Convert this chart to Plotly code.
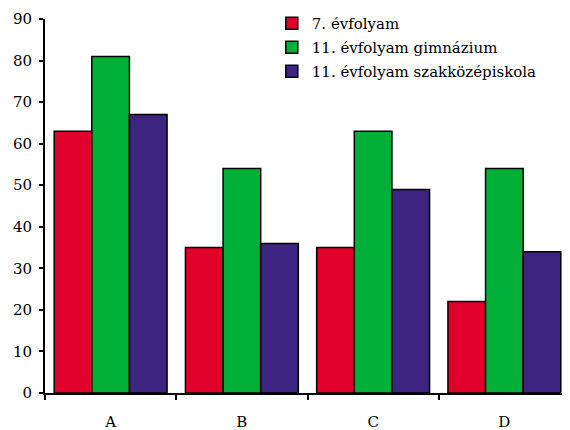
import plotly.graph_objects as go

categories = ["A", "B", "C", "D"]
series_names = ["7. évfolyam", "11. évfolyam gimnázium", "11. évfolyam szakközépiskola"]
values_7 = [63, 35, 35, 22]
values_11g = [81, 54, 63, 54]
values_11sz = [67, 36, 49, 34]
colors = ["#E0002A", "#00B038", "#3C2480"]

font = dict(family="DejaVu Serif", size=15, color="black")

fig = go.Figure()
for i, (name, vals, col) in enumerate(zip(series_names, [values_7, values_11g, values_11sz], colors)):
    fig.add_trace(go.Bar(x=categories, y=vals, name=name, legendgroup=f"g{i}",
                         marker=dict(color=col, line=dict(color="black", width=1.5))))

fig.update_layout(
    width=562, height=422,
    margin=dict(l=37, r=0, t=11, b=37, autoexpand=False),
    paper_bgcolor="white", plot_bgcolor="white",
    font=font,
    barmode="group", bargap=0.14, bargroupgap=0,
    showlegend=True,
    legend=dict(x=0.432, y=1.032, xanchor="left", yanchor="top",
                bgcolor="rgba(0,0,0,0)", font=font, tracegroupgap=1.5,
                traceorder="grouped", itemwidth=30),
    xaxis=dict(type="category", range=[-0.5, 3.5], showgrid=False,
               showline=True, linecolor="black", linewidth=1.5,
               ticks="outside", ticklen=5, tickwidth=1.5, tickcolor="black",
               tickson="boundaries", ticklabelstandoff=14, zeroline=False),
    yaxis=dict(range=[0, 90], dtick=10, showgrid=False, zeroline=False,
               showline=True, linecolor="black", linewidth=2,
               ticks="outside", ticklen=4, tickwidth=2, tickcolor="black",
               ticklabelstandoff=4),
    xaxis2=dict(overlaying="x", range=[-0.5, 3.5], showgrid=False, zeroline=False,
                showline=False, tickvals=[0.5, 1.5, 2.5], ticks="inside", ticklen=4,
                tickwidth=1.5, tickcolor="black", showticklabels=False, side="bottom"),
    yaxis2=dict(overlaying="y", range=[0, 90], dtick=10, showgrid=False, zeroline=False,
                showline=False, ticks="inside", ticklen=4, tickwidth=2,
                tickcolor="black", showticklabels=False, side="left"),
)

fig.write_html("out.html")
